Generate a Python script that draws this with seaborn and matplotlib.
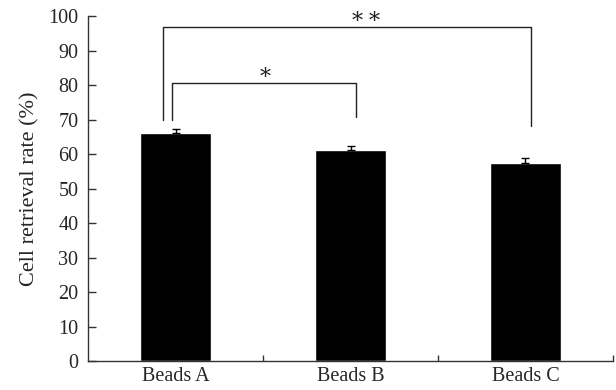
import matplotlib
matplotlib.use("Agg")
import matplotlib.pyplot as plt
import seaborn as sns
import pandas as pd

categories = ["Beads A", "Beads B", "Beads C"]
rates = [66.0, 61.2, 57.5]
errors = [1.3, 1.2, 1.3]

# significance brackets: (x left, x right, y top, left leg bottom, right leg bottom, label x, label)
brackets = [
    (-0.02, 1.03, 80.6, 70.0, 70.7, 0.51, "\u2217"),
    (-0.07, 2.03, 96.8, 70.0, 68.0, 1.09, "\u2217\u200a\u2217"),
]

sns.set_style("white")
plt.rcParams["font.family"] = ["Liberation Serif", "DejaVu Serif"]

df = pd.DataFrame({"group": categories, "rate": rates})

fig = plt.figure(figsize=(6.16, 3.9), dpi=100)
ax = fig.add_axes([0.143, 0.074, 0.852, 0.885])

sns.barplot(data=df, x="group", y="rate", color="black", width=0.41,
            saturation=1, errorbar=None, ax=ax)
ax.errorbar(range(len(rates)), rates, yerr=[[0] * len(errors), errors],
            fmt="none", ecolor="black", elinewidth=1, capsize=3, capthick=1)

for x0, x1, ytop, yl, yr, lx, label in brackets:
    ax.plot([x0, x0, x1, x1], [yl, ytop, ytop, yr], color="#222222", lw=1,
            clip_on=False)
    ax.text(lx, ytop + 2.5, label, ha="center", va="center",
            fontsize=16, color="#222222")

ax.set_xlim(-0.5, 2.5)
ax.set_ylim(0, 100)
ax.set_yticks(range(0, 101, 10))
ax.set_xlabel("")
ax.set_ylabel("Cell retrieval rate (%)", fontsize=16, labelpad=6)

ax.set_xticks([0.5, 1.5, 2.5], minor=True)
ax.tick_params(axis="x", which="major", length=0, labelsize=14.5, pad=4)
ax.tick_params(axis="x", which="minor", direction="in", length=4,
               color="#333333", width=1, bottom=True)
ax.tick_params(axis="y", direction="in", length=6, labelsize=14.5, pad=7,
               color="#333333", width=1, left=True)

sns.despine(ax=ax)
for side in ["left", "bottom"]:
    ax.spines[side].set_color("#333333")
    ax.spines[side].set_linewidth(1)

fig.savefig("out.png", dpi=100)
